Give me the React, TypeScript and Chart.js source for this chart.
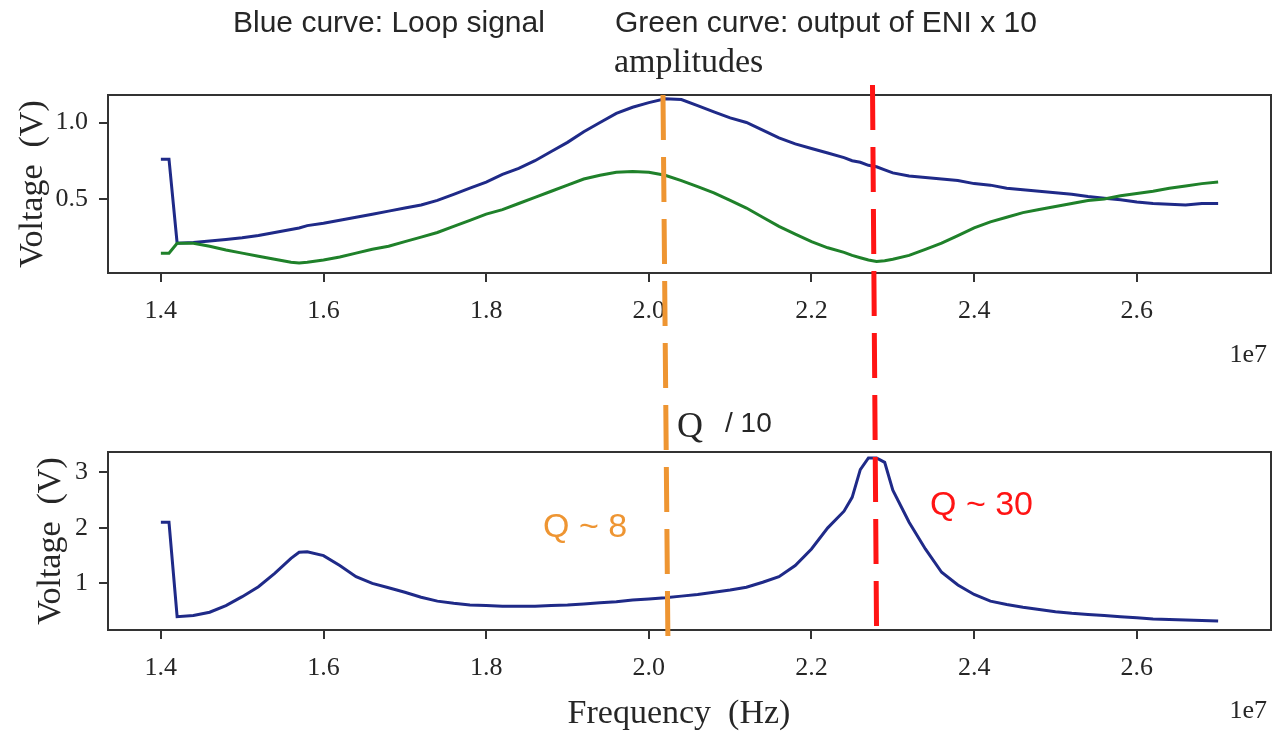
import React, { useEffect, useRef } from 'react';
import { Chart, registerables } from 'chart.js';

Chart.register(...registerables);

const W = 1276;
const H = 738;

// Frequency axis in units of 1e7 Hz
const freq = [
  1.40, 1.41, 1.42, 1.44, 1.46, 1.48, 1.50, 1.52, 1.54, 1.56, 1.57, 1.58, 1.60, 1.62,
  1.64, 1.66, 1.68, 1.70, 1.72, 1.74, 1.76, 1.78, 1.80, 1.82, 1.84, 1.86, 1.88, 1.90,
  1.92, 1.94, 1.96, 1.98, 2.00, 2.02, 2.04, 2.06, 2.08, 2.10, 2.12, 2.14, 2.16, 2.18,
  2.20, 2.22, 2.24, 2.25, 2.26, 2.27, 2.28, 2.29, 2.30, 2.32, 2.34, 2.36, 2.38, 2.40,
  2.42, 2.44, 2.46, 2.48, 2.50, 2.52, 2.54, 2.56, 2.58, 2.60, 2.62, 2.64, 2.66, 2.68, 2.70,
];

// Upper panel: loop signal (blue)
const loopAmplitude = [
  0.76, 0.76, 0.21, 0.215, 0.225, 0.235, 0.245, 0.26, 0.28, 0.30, 0.31, 0.325, 0.34, 0.36,
  0.38, 0.40, 0.42, 0.44, 0.46, 0.49, 0.53, 0.57, 0.61, 0.66, 0.70, 0.75, 0.81, 0.87,
  0.94, 1.00, 1.06, 1.10, 1.13, 1.155, 1.15, 1.11, 1.07, 1.03, 1.00, 0.95, 0.90, 0.86,
  0.83, 0.80, 0.77, 0.75, 0.74, 0.72, 0.71, 0.69, 0.67, 0.65, 0.64, 0.63, 0.62, 0.60,
  0.59, 0.57, 0.56, 0.55, 0.54, 0.53, 0.515, 0.505, 0.495, 0.48, 0.47, 0.465, 0.46, 0.47, 0.47,
];

// Upper panel: ENI output x 10 (green)
const eniAmplitude = [
  0.145, 0.145, 0.21, 0.21, 0.19, 0.165, 0.145, 0.125, 0.105, 0.085, 0.08, 0.085, 0.10, 0.12,
  0.145, 0.17, 0.19, 0.22, 0.25, 0.28, 0.32, 0.36, 0.40, 0.43, 0.47, 0.51, 0.55, 0.59,
  0.63, 0.655, 0.675, 0.68, 0.675, 0.655, 0.62, 0.58, 0.54, 0.49, 0.44, 0.38, 0.32, 0.27,
  0.22, 0.18, 0.15, 0.13, 0.115, 0.10, 0.09, 0.095, 0.105, 0.13, 0.17, 0.21, 0.26, 0.31,
  0.35, 0.38, 0.41, 0.43, 0.45, 0.47, 0.49, 0.50, 0.52, 0.535, 0.55, 0.57, 0.585, 0.60, 0.61,
];

// Lower panel: loop signal, Q / 10
const loopQ = [
  2.10, 2.10, 0.40, 0.42, 0.48, 0.60, 0.76, 0.94, 1.18, 1.45, 1.56, 1.57, 1.50, 1.32,
  1.12, 1.00, 0.92, 0.84, 0.75, 0.68, 0.64, 0.61, 0.60, 0.59, 0.59, 0.59, 0.60, 0.61,
  0.63, 0.65, 0.67, 0.70, 0.72, 0.74, 0.77, 0.80, 0.84, 0.88, 0.93, 1.02, 1.12, 1.32,
  1.62, 2.00, 2.30, 2.55, 3.05, 3.26, 3.26, 3.18, 2.68, 2.10, 1.62, 1.20, 0.97, 0.80,
  0.68, 0.62, 0.57, 0.53, 0.49, 0.46, 0.44, 0.42, 0.40, 0.38, 0.36, 0.35, 0.34, 0.33, 0.32,
];

const freqTicks = [1.4, 1.6, 1.8, 2.0, 2.2, 2.4, 2.6];
const upperVoltTicks = [0.5, 1.0];
const lowerVoltTicks = [1, 2, 3];

// Resonance markers: frequency at the upper and lower end of each dashed line
const broadResonance = [2.0174, 2.0235];
const sharpResonance = [2.275, 2.280];

const BLUE = '#1f2a88';
const GREEN = '#1f812a';
const ORANGE = '#ee9532';
const RED = '#ff1414';
const INK = '#262626';

const SERIF = '"Liberation Serif", "Times New Roman", serif';
const SANS = '"Liberation Sans", Arial, sans-serif';

const pts = (ys: number[]) => freq.map((x, i) => ({ x, y: ys[i] }));

const framePlugin = {
  id: 'frame',
  afterDatasetsDraw(chart: any) {
    const { ctx, chartArea: a } = chart;
    ctx.save();
    ctx.strokeStyle = '#333';
    ctx.lineWidth = 2;
    ctx.strokeRect(a.left, a.top, a.right - a.left, a.bottom - a.top);
    ctx.restore();
  },
};

function xScale() {
  return {
    type: 'linear' as const,
    min: 1.335,
    max: 2.765,
    afterBuildTicks: (axis: any) => {
      axis.ticks = freqTicks.map((v) => ({ value: v }));
    },
    afterFit: (scale: any) => {
      scale.height = 80;
    },
    grid: { display: true, drawOnChartArea: false, drawTicks: true, tickLength: 9, color: '#333', lineWidth: 2 },
    border: { display: false },
    ticks: {
      padding: 14,
      color: INK,
      font: { family: SERIF, size: 26 },
      maxRotation: 0,
      callback: (v: any) => Number(v).toFixed(1),
    },
  };
}

function yScale(min: number, max: number, ticks: number[], digits: number, titlePad: number) {
  return {
    type: 'linear' as const,
    min,
    max,
    afterBuildTicks: (axis: any) => {
      axis.ticks = ticks.map((v) => ({ value: v }));
    },
    afterFit: (scale: any) => {
      scale.width = 108;
    },
    grid: { display: true, drawOnChartArea: false, drawTicks: true, tickLength: 9, color: '#333', lineWidth: 2 },
    border: { display: false },
    ticks: {
      padding: 11,
      color: INK,
      font: { family: SERIF, size: 26 },
      callback: (v: any) => Number(v).toFixed(digits),
    },
    title: {
      display: true,
      text: 'Voltage  (V)',
      color: INK,
      font: { family: SERIF, size: 34 },
      padding: { top: titlePad, bottom: 0 },
    },
  };
}

const upperText = {
  id: 'upperText',
  afterDraw(chart: any) {
    const { ctx } = chart;
    ctx.save();
    ctx.fillStyle = INK;
    ctx.textBaseline = 'alphabetic';
    ctx.textAlign = 'left';
    ctx.font = `30px ${SANS}`;
    ctx.fillText('Blue curve: Loop signal', 233, 32);
    ctx.fillText('Green curve: output of ENI x 10', 615, 32);
    ctx.font = `34px ${SERIF}`;
    ctx.fillText('amplitudes', 614, 72);
    ctx.font = `26px ${SERIF}`;
    ctx.textAlign = 'right';
    ctx.fillText('1e7', 1267, 362);
    ctx.restore();
  },
};

const lowerText = {
  id: 'lowerText',
  afterDraw(chart: any) {
    const { ctx } = chart;
    const x = chart.scales.x;
    const marker = (f: number[], color: string, yTop: number, yBottom: number) => {
      ctx.save();
      ctx.strokeStyle = color;
      ctx.lineWidth = 5;
      ctx.setLineDash([45, 17]);
      ctx.beginPath();
      ctx.moveTo(x.getPixelForValue(f[0]), yTop);
      ctx.lineTo(x.getPixelForValue(f[1]), yBottom);
      ctx.stroke();
      ctx.restore();
    };
    marker(broadResonance, ORANGE, 95, 645);
    marker(sharpResonance, RED, 85, 632);

    ctx.save();
    ctx.textBaseline = 'alphabetic';
    ctx.textAlign = 'left';
    ctx.fillStyle = INK;
    ctx.font = `36px ${SERIF}`;
    ctx.fillText('Q', 677, 437);
    ctx.font = `28px ${SANS}`;
    ctx.fillText('/ 10', 725, 432);
    ctx.font = `34px ${SANS}`;
    ctx.fillStyle = ORANGE;
    ctx.fillText('Q ~ 8', 543, 537);
    ctx.fillStyle = RED;
    ctx.fillText('Q ~ 30', 930, 515);
    ctx.fillStyle = INK;
    ctx.font = `26px ${SERIF}`;
    ctx.textAlign = 'right';
    ctx.fillText('1e7', 1267, 718);
    // frequency axis title
    ctx.textAlign = 'center';
    ctx.font = `34px ${SERIF}`;
    ctx.fillText('Frequency  (Hz)', 679, 723);
    ctx.restore();
  },
};

const lineStyle = { borderWidth: 3, pointRadius: 0, tension: 0, fill: false };

export default function App() {
  const upperRef = useRef<HTMLCanvasElement>(null);
  const lowerRef = useRef<HTMLCanvasElement>(null);

  useEffect(() => {
    document.body.style.margin = '0';
    const upper = new Chart(upperRef.current!, {
      type: 'line',
      data: {
        datasets: [
          { label: 'ENI output x 10', data: pts(eniAmplitude), borderColor: GREEN, ...lineStyle },
          { label: 'Loop signal', data: pts(loopAmplitude), borderColor: BLUE, ...lineStyle },
        ],
      },
      options: {
        animation: false,
        responsive: false,
        devicePixelRatio: 1,
        layout: { padding: { left: 0, right: 5, top: 95, bottom: H - 273 - 80 } },
        plugins: { legend: { display: false }, tooltip: { enabled: false } },
        scales: {
          x: xScale(),
          y: yScale(0.015, 1.18, upperVoltTicks, 1, 13),
        },
      },
      plugins: [framePlugin, upperText],
    } as any);

    const lower = new Chart(lowerRef.current!, {
      type: 'line',
      data: {
        datasets: [{ label: 'Loop signal Q / 10', data: pts(loopQ), borderColor: BLUE, ...lineStyle }],
      },
      options: {
        animation: false,
        responsive: false,
        devicePixelRatio: 1,
        layout: { padding: { left: 0, right: 5, top: 452, bottom: H - 630 - 80 } },
        plugins: { legend: { display: false }, tooltip: { enabled: false } },
        scales: {
          x: xScale(),
          y: yScale(0.16, 3.366, lowerVoltTicks, 0, 31),
        },
      },
      plugins: [framePlugin, lowerText],
    } as any);

    return () => {
      upper.destroy();
      lower.destroy();
    };
  }, []);

  const canvasStyle: React.CSSProperties = { position: 'absolute', left: 0, top: 0, width: W, height: H };
  return (
    <div style={{ position: 'fixed', left: 0, top: 0, width: W, height: H, background: '#fff' }}>
      <canvas ref={upperRef} width={W} height={H} style={canvasStyle} />
      <canvas ref={lowerRef} width={W} height={H} style={canvasStyle} />
    </div>
  );
}
